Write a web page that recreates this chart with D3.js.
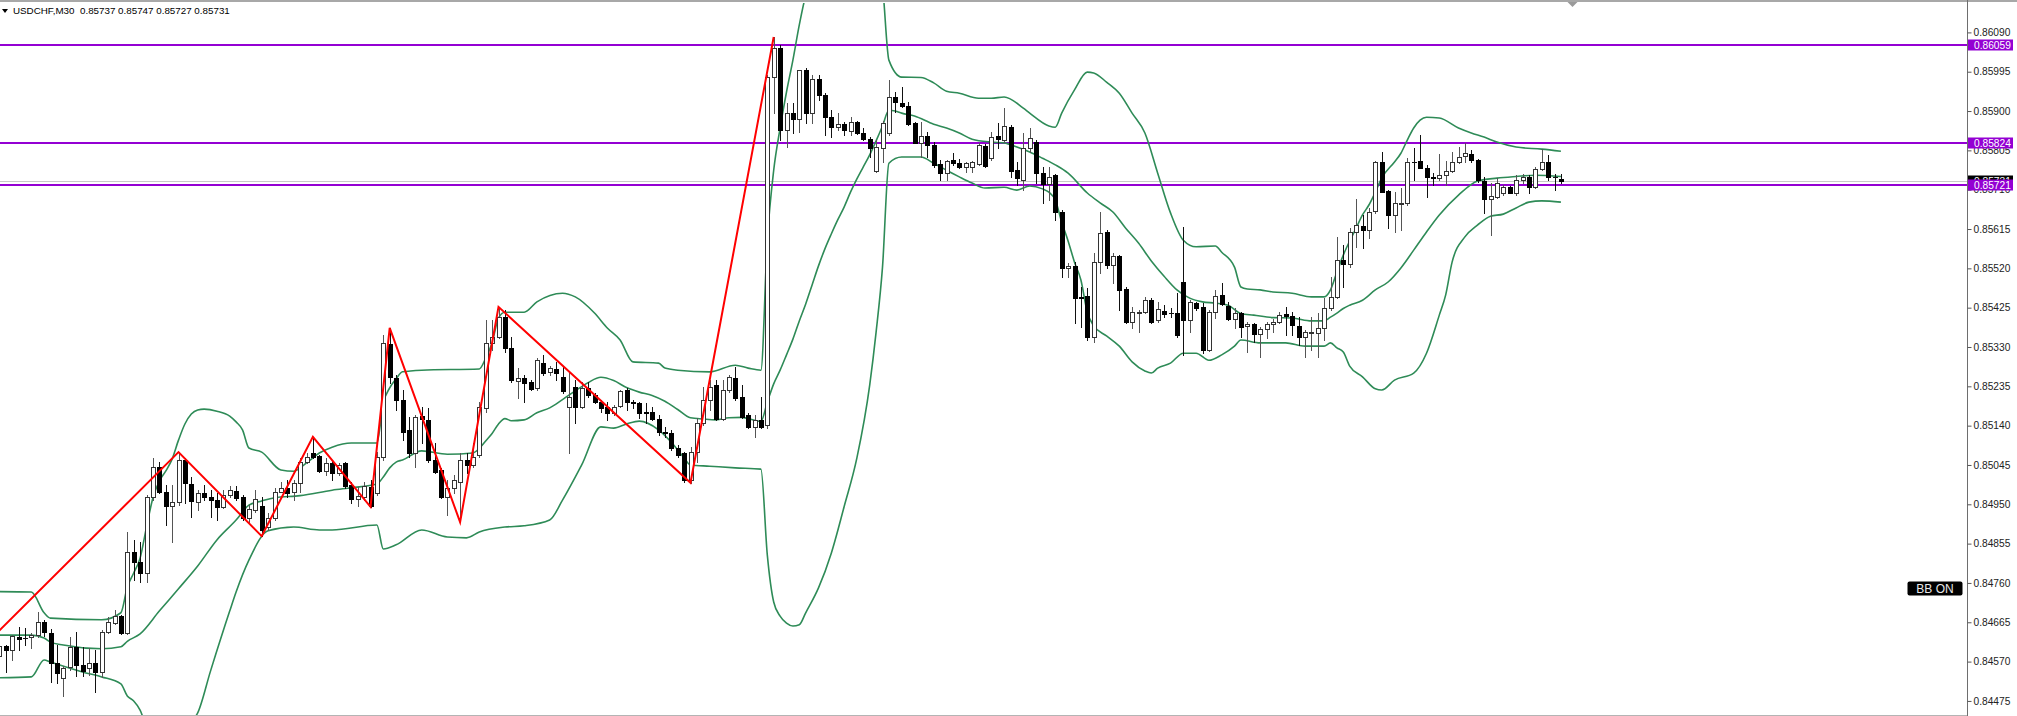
<!DOCTYPE html>
<html><head><meta charset="utf-8">
<script src="https://cdn.jsdelivr.net/npm/d3@7"></script>
<style>html,body{margin:0;padding:0;background:#fff;overflow:hidden}</style>
</head><body>
<svg id="chart" width="2017" height="716"></svg>
<script>
// ---------------- DATA ----------------
const symbolTitle = "USDCHF,M30";
const headerQuote = ["0.85737", "0.85747", "0.85727", "0.85731"];

const opens = [
0.84584,0.84608,0.84598,0.84630,0.84627,0.84629,0.84634,0.84666,0.84640,0.84567,
0.84531,0.84557,0.84605,0.84562,0.84555,0.84567,0.84545,0.84642,0.84663,0.84680,
0.84639,0.84835,0.84811,0.84784,0.84968,0.85040,0.84980,0.84946,0.84956,0.85057,
0.84999,0.84956,0.84977,0.84968,0.84960,0.84944,0.84972,0.84982,0.84968,0.84917,
0.84936,0.84946,0.84895,0.84917,0.84980,0.84989,0.84980,0.85002,0.85052,0.85074,
0.85067,0.85030,0.85050,0.85026,0.85050,0.84997,0.84963,0.84968,0.84992,0.84977,
0.85064,0.85337,0.85255,0.85202,0.85130,0.85074,0.85163,0.85154,0.85057,0.85033,
0.84968,0.84989,0.85004,0.85057,0.85045,0.85069,0.85183,0.85340,0.85354,0.85402,
0.85328,0.85248,0.85255,0.85245,0.85231,0.85291,0.85270,0.85277,0.85258,0.85185,
0.85233,0.85185,0.85231,0.85214,0.85197,0.85185,0.85171,0.85187,0.85226,0.85197,
0.85195,0.85173,0.85173,0.85156,0.85125,0.85122,0.85086,0.85074,0.85009,0.85076,
0.85146,0.85202,0.85238,0.85156,0.85226,0.85255,0.85209,0.85166,0.85137,0.85154,
0.85142,0.85982,0.86052,0.85854,0.85895,0.85881,0.85999,0.85895,0.85977,0.85939,
0.85885,0.85861,0.85869,0.85852,0.85873,0.85847,0.85832,0.85755,0.85811,0.85847,
0.85934,0.85919,0.85912,0.85871,0.85823,0.85840,0.85818,0.85772,0.85750,0.85782,
0.85774,0.85765,0.85765,0.85772,0.85815,0.85786,0.85840,0.85830,0.85861,0.85757,
0.85733,0.85811,0.85825,0.85750,0.85724,0.85745,0.85656,0.85521,0.85526,0.85451,
0.85453,0.85354,0.85535,0.85608,0.85528,0.85550,0.85470,0.85390,0.85412,0.85414,
0.85443,0.85395,0.85417,0.85412,0.85412,0.85487,0.85395,0.85436,0.85427,0.85323,
0.85414,0.85456,0.85429,0.85398,0.85412,0.85381,0.85385,0.85361,0.85373,0.85385,
0.85390,0.85410,0.85405,0.85381,0.85354,0.85364,0.85364,0.85376,0.85424,0.85451,
0.85540,0.85530,0.85608,0.85622,0.85612,0.85658,0.85777,0.85707,0.85649,0.85675,
0.85678,0.85777,0.85779,0.85762,0.85741,0.85738,0.85745,0.85755,0.85777,0.85791,
0.85796,0.85782,0.85731,0.85687,0.85692,0.85702,0.85716,0.85702,0.85733,0.85741,
0.85716,0.85760,0.85777,0.85741,0.85737];

const highs = [
0.84622,0.84610,0.84634,0.84654,0.84651,0.84639,0.84690,0.84671,0.84649,0.84610,
0.84560,0.84630,0.84642,0.84605,0.84603,0.84598,0.84646,0.84678,0.84695,0.84683,
0.84883,0.84864,0.84859,0.84972,0.85062,0.85052,0.84997,0.84997,0.85076,0.85062,
0.85016,0.84985,0.84997,0.84985,0.84977,0.84985,0.84994,0.84994,0.84972,0.84948,
0.84985,0.84968,0.84929,0.84989,0.85004,0.85009,0.85009,0.85062,0.85074,0.85113,
0.85069,0.85062,0.85057,0.85050,0.85052,0.85004,0.84992,0.85004,0.85009,0.85076,
0.85359,0.85376,0.85262,0.85226,0.85161,0.85166,0.85185,0.85183,0.85098,0.85038,
0.85009,0.85021,0.85074,0.85074,0.85098,0.85197,0.85395,0.85395,0.85427,0.85420,
0.85354,0.85279,0.85262,0.85250,0.85303,0.85311,0.85284,0.85294,0.85282,0.85270,
0.85250,0.85245,0.85245,0.85219,0.85202,0.85197,0.85190,0.85226,0.85231,0.85202,
0.85197,0.85195,0.85185,0.85166,0.85137,0.85130,0.85093,0.85076,0.85088,0.85158,
0.85233,0.85250,0.85250,0.85250,0.85262,0.85282,0.85238,0.85171,0.85166,0.85209,
0.85987,0.86079,0.86059,0.85919,0.85919,0.85999,0.86004,0.85987,0.85987,0.85943,
0.85902,0.85895,0.85873,0.85885,0.85876,0.85859,0.85837,0.85830,0.85876,0.85975,
0.85946,0.85958,0.85922,0.85873,0.85873,0.85849,0.85825,0.85782,0.85782,0.85798,
0.85784,0.85777,0.85779,0.85823,0.85820,0.85849,0.85871,0.85907,0.85866,0.85777,
0.85847,0.85859,0.85830,0.85765,0.85765,0.85748,0.85661,0.85533,0.85535,0.85475,
0.85472,0.85557,0.85656,0.85612,0.85557,0.85552,0.85475,0.85427,0.85419,0.85451,
0.85448,0.85439,0.85431,0.85424,0.85460,0.85620,0.85443,0.85439,0.85436,0.85419,
0.85468,0.85484,0.85439,0.85424,0.85414,0.85390,0.85388,0.85378,0.85390,0.85398,
0.85414,0.85427,0.85414,0.85402,0.85371,0.85402,0.85412,0.85448,0.85499,0.85596,
0.85576,0.85617,0.85687,0.85649,0.85666,0.85779,0.85801,0.85709,0.85704,0.85714,
0.85786,0.85811,0.85842,0.85770,0.85750,0.85796,0.85779,0.85801,0.85813,0.85823,
0.85806,0.85784,0.85741,0.85726,0.85738,0.85721,0.85719,0.85745,0.85748,0.85745,
0.85765,0.85808,0.85794,0.85748,0.85747];

const lows = [
0.84562,0.84545,0.84574,0.84598,0.84610,0.84603,0.84630,0.84632,0.84521,0.84518,
0.84487,0.84550,0.84535,0.84535,0.84538,0.84497,0.84533,0.84639,0.84661,0.84637,
0.84637,0.84767,0.84762,0.84762,0.84960,0.84977,0.84900,0.84859,0.84948,0.84953,
0.84919,0.84936,0.84960,0.84919,0.84912,0.84941,0.84968,0.84960,0.84912,0.84907,
0.84931,0.84873,0.84888,0.84912,0.84980,0.84968,0.84960,0.84980,0.85050,0.85062,
0.85028,0.85021,0.85009,0.85021,0.84989,0.84953,0.84946,0.84960,0.84944,0.84972,
0.85057,0.85243,0.85178,0.85105,0.85064,0.85040,0.85098,0.85052,0.85026,0.84965,
0.84924,0.84977,0.84907,0.85026,0.85040,0.85064,0.85173,0.85323,0.85352,0.85318,
0.85245,0.85207,0.85197,0.85226,0.85226,0.85262,0.85262,0.85250,0.85219,0.85074,
0.85146,0.85183,0.85209,0.85195,0.85173,0.85154,0.85166,0.85185,0.85178,0.85183,
0.85158,0.85146,0.85154,0.85117,0.85113,0.85081,0.85064,0.85004,0.85002,0.85052,
0.85142,0.85178,0.85154,0.85154,0.85221,0.85202,0.85158,0.85134,0.85113,0.85134,
0.85134,0.85895,0.85830,0.85813,0.85847,0.85849,0.85871,0.85871,0.85927,0.85842,
0.85837,0.85854,0.85842,0.85842,0.85844,0.85830,0.85789,0.85753,0.85777,0.85842,
0.85897,0.85910,0.85866,0.85822,0.85789,0.85789,0.85765,0.85733,0.85733,0.85770,
0.85762,0.85753,0.85753,0.85770,0.85765,0.85782,0.85811,0.85825,0.85741,0.85721,
0.85709,0.85801,0.85726,0.85678,0.85685,0.85637,0.85499,0.85499,0.85388,0.85378,
0.85347,0.85342,0.85509,0.85521,0.85484,0.85419,0.85388,0.85376,0.85366,0.85412,
0.85388,0.85390,0.85402,0.85402,0.85354,0.85311,0.85366,0.85419,0.85315,0.85320,
0.85400,0.85431,0.85395,0.85376,0.85354,0.85318,0.85342,0.85306,0.85352,0.85366,
0.85388,0.85359,0.85359,0.85335,0.85306,0.85323,0.85306,0.85347,0.85419,0.85448,
0.85475,0.85523,0.85572,0.85569,0.85593,0.85654,0.85704,0.85617,0.85608,0.85612,
0.85673,0.85733,0.85762,0.85692,0.85721,0.85733,0.85721,0.85753,0.85774,0.85777,
0.85777,0.85728,0.85654,0.85600,0.85690,0.85697,0.85701,0.85697,0.85726,0.85702,
0.85714,0.85757,0.85733,0.85709,0.85727];

const closes = [
0.84608,0.84598,0.84631,0.84624,0.84626,0.84635,0.84666,0.84642,0.84566,0.84543,
0.84555,0.84605,0.84562,0.84547,0.84567,0.84545,0.84642,0.84666,0.84679,0.84640,
0.84835,0.84811,0.84784,0.84968,0.85040,0.84980,0.84946,0.84956,0.85057,0.85002,
0.84958,0.84977,0.84968,0.84960,0.84944,0.84972,0.84985,0.84965,0.84917,0.84939,
0.84963,0.84888,0.84917,0.84980,0.84989,0.84977,0.85002,0.85052,0.85064,0.85064,
0.85030,0.85050,0.85026,0.85045,0.84994,0.84963,0.84970,0.84994,0.84946,0.85064,
0.85340,0.85258,0.85202,0.85125,0.85074,0.85161,0.85156,0.85057,0.85028,0.84968,
0.84989,0.85009,0.85057,0.85045,0.85064,0.85185,0.85340,0.85354,0.85402,0.85328,
0.85250,0.85255,0.85243,0.85229,0.85298,0.85267,0.85279,0.85267,0.85224,0.85209,
0.85185,0.85231,0.85214,0.85197,0.85183,0.85171,0.85185,0.85224,0.85197,0.85195,
0.85171,0.85171,0.85156,0.85125,0.85122,0.85086,0.85069,0.85009,0.85076,0.85146,
0.85202,0.85233,0.85156,0.85226,0.85258,0.85207,0.85161,0.85137,0.85154,0.85137,
0.85982,0.86052,0.85854,0.85895,0.85881,0.85999,0.85895,0.85977,0.85939,0.85885,
0.85861,0.85869,0.85854,0.85873,0.85847,0.85832,0.85811,0.85813,0.85871,0.85934,
0.85922,0.85912,0.85869,0.85823,0.85840,0.85818,0.85770,0.85750,0.85779,0.85774,
0.85765,0.85774,0.85777,0.85818,0.85767,0.85837,0.85832,0.85864,0.85755,0.85738,
0.85811,0.85835,0.85750,0.85724,0.85741,0.85656,0.85521,0.85526,0.85448,0.85448,
0.85354,0.85535,0.85605,0.85528,0.85550,0.85468,0.85390,0.85414,0.85414,0.85443,
0.85390,0.85422,0.85410,0.85411,0.85359,0.85395,0.85439,0.85424,0.85323,0.85414,
0.85453,0.85434,0.85398,0.85412,0.85378,0.85385,0.85361,0.85373,0.85385,0.85390,
0.85407,0.85405,0.85383,0.85354,0.85366,0.85366,0.85376,0.85424,0.85451,0.85540,
0.85530,0.85608,0.85625,0.85612,0.85656,0.85777,0.85704,0.85649,0.85678,0.85678,
0.85777,0.85776,0.85762,0.85741,0.85738,0.85745,0.85755,0.85777,0.85789,0.85798,
0.85782,0.85733,0.85687,0.85695,0.85726,0.85716,0.85702,0.85733,0.85741,0.85716,
0.85760,0.85777,0.85741,0.85740,0.85731];

// Bollinger band lines, [bar index, price]
const bbUpper = [[0,0.84739],[5,0.84738],[7,0.84688],[8,0.84675],[16,0.84671],[19,0.84688],[20,0.84750],[21,0.84784],[22,0.84820],[23,0.84895],[24,0.84965],[25,0.85006],[26,0.85030],[27,0.85059],[28,0.85105],[29,0.85144],[30,0.85168],[31,0.85178],[32,0.85180],[34,0.85175],[36,0.85163],[37,0.85149],[38,0.85130],[39,0.85086],[41,0.85076],[44,0.85033],[46,0.85030],[48,0.85050],[50,0.85074],[52,0.85088],[55,0.85098],[59,0.85098],[60,0.85195],[61,0.85231],[62,0.85253],[63,0.85270],[66,0.85274],[75,0.85277],[76,0.85303],[77,0.85340],[78,0.85400],[79,0.85414],[82,0.85414],[84,0.85439],[88,0.85460],[90,0.85451],[93,0.85412],[95,0.85376],[97,0.85347],[99,0.85294],[103,0.85291],[104,0.85279],[106,0.85274],[111,0.85270],[115,0.85286],[117,0.85279],[119,0.85274],[120,0.85588],[121,0.85757],[122,0.85859],[123,0.85946],[124,0.86023],[125,0.86108],[126,0.86180],[127,0.86228],[128,0.86277],[130,0.86325],[133,0.86349],[136,0.86313],[137,0.86265],[138,0.86202],[139,0.86023],[141,0.85982],[144,0.85981],[146,0.85968],[148,0.85948],[150,0.85943],[153,0.85931],[155,0.85931],[157,0.85934],[160,0.85907],[161,0.85895],[164,0.85864],[165,0.85861],[166,0.85895],[168,0.85951],[170,0.85994],[171,0.85992],[173,0.85970],[175,0.85943],[177,0.85895],[179,0.85847],[181,0.85750],[183,0.85654],[185,0.85588],[187,0.85572],[190,0.85574],[191,0.85559],[193,0.85523],[194,0.85475],[195,0.85470],[197,0.85468],[199,0.85463],[202,0.85460],[205,0.85451],[207,0.85451],[208,0.85468],[209,0.85511],[210,0.85552],[212,0.85617],[213,0.85649],[214,0.85673],[215,0.85704],[216,0.85738],[218,0.85777],[219,0.85798],[220,0.85830],[221,0.85859],[222,0.85878],[223,0.85885],[225,0.85883],[228,0.85859],[230,0.85847],[232,0.85837],[234,0.85825],[237,0.85813],[241,0.85808],[244,0.85803]];

const bbMiddle = [[0,0.84634],[5,0.84634],[7,0.84627],[8,0.84617],[10,0.84610],[16,0.84601],[19,0.84606],[20,0.84619],[22,0.84637],[25,0.84692],[28,0.84746],[31,0.84801],[34,0.84864],[37,0.84912],[39,0.84948],[41,0.84958],[43,0.84966],[47,0.84971],[52,0.84984],[55,0.84990],[59,0.84999],[60,0.85016],[61,0.85038],[62,0.85052],[63,0.85057],[66,0.85079],[70,0.85071],[74,0.85074],[75,0.85085],[76,0.85103],[77,0.85121],[78,0.85144],[79,0.85157],[80,0.85152],[82,0.85154],[84,0.85171],[86,0.85183],[88,0.85203],[90,0.85224],[92,0.85244],[94,0.85257],[96,0.85249],[98,0.85232],[100,0.85221],[102,0.85213],[104,0.85199],[106,0.85179],[108,0.85159],[110,0.85156],[112,0.85154],[114,0.85159],[116,0.85160],[118,0.85153],[119,0.85150],[120,0.85197],[121,0.85241],[122,0.85274],[123,0.85311],[124,0.85349],[125,0.85393],[126,0.85434],[127,0.85480],[128,0.85526],[129,0.85567],[130,0.85603],[131,0.85637],[132,0.85668],[133,0.85704],[134,0.85736],[135,0.85765],[136,0.85794],[137,0.85828],[138,0.85864],[139,0.85902],[140,0.85900],[141,0.85895],[143,0.85888],[146,0.85868],[148,0.85859],[150,0.85847],[152,0.85832],[155,0.85825],[157,0.85823],[159,0.85813],[161,0.85801],[163,0.85786],[165,0.85770],[167,0.85750],[170,0.85702],[172,0.85678],[174,0.85656],[176,0.85617],[178,0.85581],[180,0.85538],[182,0.85501],[184,0.85468],[186,0.85448],[188,0.85439],[190,0.85436],[192,0.85431],[194,0.85411],[196,0.85407],[199,0.85401],[202,0.85400],[205,0.85393],[207,0.85393],[208,0.85402],[209,0.85412],[210,0.85423],[211,0.85431],[213,0.85443],[215,0.85468],[217,0.85487],[219,0.85521],[221,0.85564],[223,0.85608],[225,0.85649],[228,0.85697],[231,0.85731],[234,0.85738],[237,0.85742],[240,0.85745],[244,0.85742]];

const bbLower = [[0,0.84531],[5,0.84533],[7,0.84574],[8,0.84569],[13,0.84545],[16,0.84533],[19,0.84516],[20,0.84487],[21,0.84475],[22,0.84453],[23,0.84412],[24,0.84386],[26,0.84381],[28,0.84383],[29,0.84400],[30,0.84424],[31,0.84446],[33,0.84547],[36,0.84692],[37,0.84738],[39,0.84815],[42,0.84886],[46,0.84895],[50,0.84888],[52,0.84888],[59,0.84900],[60,0.84842],[62,0.84852],[66,0.84888],[70,0.84871],[73,0.84869],[75,0.84883],[79,0.84895],[82,0.84898],[86,0.84912],[88,0.84960],[91,0.85045],[94,0.85137],[96,0.85134],[98,0.85144],[100,0.85151],[103,0.85130],[105,0.85100],[107,0.85062],[108,0.85045],[111,0.85042],[115,0.85038],[119,0.85035],[120,0.84828],[121,0.84714],[122,0.84680],[123,0.84663],[124,0.84656],[125,0.84659],[126,0.84688],[128,0.84748],[130,0.84832],[132,0.84944],[134,0.85062],[136,0.85238],[137,0.85366],[138,0.85523],[139,0.85774],[141,0.85789],[144,0.85789],[146,0.85774],[148,0.85757],[150,0.85741],[152,0.85726],[154,0.85714],[157,0.85716],[159,0.85709],[161,0.85719],[163,0.85712],[164,0.85704],[165,0.85685],[166,0.85632],[167,0.85586],[168,0.85535],[169,0.85492],[170,0.85414],[171,0.85381],[173,0.85357],[175,0.85332],[177,0.85294],[179,0.85272],[180,0.85267],[181,0.85279],[183,0.85291],[185,0.85315],[187,0.85315],[189,0.85298],[191,0.85311],[193,0.85332],[194,0.85347],[197,0.85340],[201,0.85340],[204,0.85332],[207,0.85332],[208,0.85340],[209,0.85328],[210,0.85318],[211,0.85284],[213,0.85258],[215,0.85229],[216,0.85226],[218,0.85250],[221,0.85267],[223,0.85315],[225,0.85407],[226,0.85456],[227,0.85535],[229,0.85596],[231,0.85625],[233,0.85646],[235,0.85651],[237,0.85666],[239,0.85680],[241,0.85683],[244,0.85680]];

// ZigZag swing points [bar index, price]
const zigzag = [[-5,0.84568],[28,0.85076],[41,0.84873],[49,0.85113],[58,0.84944],[61,0.85376],[72,0.84907],[78,0.85427],[108,0.85002],[121,0.86079]];

const levels = [0.86059, 0.85824, 0.85721];
const bidPrice = 0.85731;
const yTicks = [0.86090,0.85995,0.85900,0.85805,0.85710,0.85615,0.85520,0.85425,0.85330,0.85235,0.85140,0.85045,0.84950,0.84855,0.84760,0.84665,0.84570,0.84475];
const badgeText = "BB ON";

// ---------------- LAYOUT ----------------
const W = 2017, H = 716;
const plotRight = 1967, plotTop = 3, plotBottom = 715;
const FONT = "Liberation Sans, Arial, sans-serif";

const x = d3.scaleLinear().domain([0, 244]).range([-0.7, 1560.9]);
const y = d3.scaleLinear().domain([0.84441, 0.86161]).range([plotBottom, plotTop]);

const svg = d3.select("#chart");
svg.append("rect").attr("width", W).attr("height", H).attr("fill", "#fff");

svg.append("defs").append("clipPath").attr("id", "plotClip")
  .append("rect").attr("x", 0).attr("y", plotTop).attr("width", plotRight).attr("height", plotBottom - plotTop);

// frame lines
svg.append("rect").attr("x", 0).attr("y", 0).attr("width", W).attr("height", 2).attr("fill", "#a8a8a8");
svg.append("line").attr("x1", 0).attr("x2", plotRight).attr("y1", plotBottom + 0.5).attr("y2", plotBottom + 0.5)
  .attr("stroke", "#b4b4b4").attr("stroke-width", 1);

const plot = svg.append("g").attr("clip-path", "url(#plotClip)");

// bid line
plot.append("line").attr("x1", 0).attr("x2", plotRight)
  .attr("y1", Math.round(y(bidPrice)) + 0.5).attr("y2", Math.round(y(bidPrice)) + 0.5)
  .attr("stroke", "#c8c8c8").attr("stroke-width", 1);

// horizontal levels
plot.selectAll(".lvl").data(levels).enter().append("line")
  .attr("x1", 0).attr("x2", plotRight)
  .attr("y1", d => Math.round(y(d))).attr("y2", d => Math.round(y(d)))
  .attr("stroke", "#9400d3").attr("stroke-width", 2);

// Bollinger bands
const bandLine = d3.line().x(d => x(d[0])).y(d => y(d[1])).curve(d3.curveMonotoneX);
[bbUpper, bbMiddle, bbLower].forEach(b => {
  plot.append("path").attr("d", bandLine(b)).attr("fill", "none")
    .attr("stroke", "#2e8b57").attr("stroke-width", 1.6);
});

// candles
const candles = opens.map((o, i) => ({ i, o, h: highs[i], l: lows[i], c: closes[i] }));
const cg = plot.append("g").attr("shape-rendering", "crispEdges");
candles.forEach(d => {
  const r = Math.round(x(d.i));
  const bull = d.c >= d.o;
  cg.append("line").attr("x1", r + 0.5).attr("x2", r + 0.5)
    .attr("y1", Math.round(y(d.h))).attr("y2", Math.round(y(d.l)) + 1)
    .attr("stroke", bull ? "#555" : "#111").attr("stroke-width", 1);
  const top = Math.round(y(Math.max(d.o, d.c))) + 0.5;
  const bot = Math.round(y(Math.min(d.o, d.c))) + 0.5;
  if (bot - top < 1) {
    cg.append("line").attr("x1", r - 2).attr("x2", r + 3).attr("y1", top).attr("y2", top)
      .attr("stroke", "#111").attr("stroke-width", 1);
  } else {
    cg.append("rect").attr("x", r - 1.5).attr("y", top).attr("width", 4).attr("height", bot - top)
      .attr("fill", bull ? "#fff" : "#000").attr("stroke", bull ? "#333" : "#000").attr("stroke-width", 1);
  }
});

// zigzag
plot.append("path").attr("d", d3.line().x(d => x(d[0])).y(d => y(d[1]))(zigzag))
  .attr("fill", "none").attr("stroke", "#ff0000").attr("stroke-width", 2);

// right axis
svg.append("line").attr("x1", plotRight + 0.5).attr("x2", plotRight + 0.5).attr("y1", 0).attr("y2", H)
  .attr("stroke", "#6e6e6e").attr("stroke-width", 1);
const axis = d3.axisRight(y).tickValues(yTicks).tickFormat(d => d.toFixed(5)).tickSize(4).tickPadding(2);
const ag = svg.append("g").attr("transform", `translate(${plotRight + 0.5},0)`).call(axis);
ag.select(".domain").remove();
ag.selectAll(".tick line").attr("stroke", "#555");
ag.selectAll("text").attr("font-family", FONT).attr("font-size", "10.2px").attr("fill", "#222");

// price labels
function priceLabel(p, fill) {
  const yy = Math.round(y(p));
  svg.append("rect").attr("x", plotRight + 1).attr("y", yy - 5.5).attr("width", 45).attr("height", 11).attr("fill", fill);
  svg.append("text").attr("x", plotRight + 7).attr("y", yy + 4).attr("font-family", FONT)
    .attr("font-size", "10.2px").attr("fill", "#fff").text(p.toFixed(5));
}
priceLabel(bidPrice, "#000");
levels.forEach(p => priceLabel(p, "#9400d3"));

// header
svg.append("path").attr("d", "M2,9 L8,9 L5,13 Z").attr("fill", "#000");
svg.append("text").attr("x", 13).attr("y", 14).attr("font-family", FONT).attr("font-size", "9.8px")
  .attr("fill", "#000").attr("xml:space", "preserve")
  .text(symbolTitle + "  " + headerQuote.join(" "));

// shift marker
svg.append("path").attr("d", "M1567.5,2 L1577.5,2 L1572.5,7 Z").attr("fill", "#9a9a9a");

// BB ON badge
svg.append("rect").attr("x", 1907.5).attr("y", 581.5).attr("width", 55).attr("height", 14).attr("rx", 2).attr("fill", "#000");
svg.append("text").attr("x", 1935).attr("y", 593).attr("text-anchor", "middle").attr("font-family", FONT)
  .attr("font-size", "12px").attr("fill", "#e8e8e8").text(badgeText);
</script>
</body></html>
